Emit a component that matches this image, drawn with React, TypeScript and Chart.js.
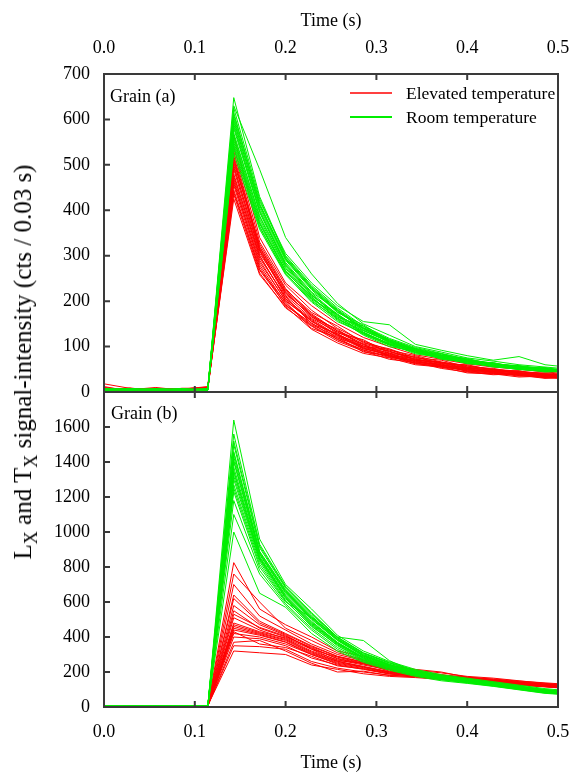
import React, { useEffect, useRef } from "react";
import { Chart, registerables } from "chart.js";

Chart.register(...registerables);

// Time axis (s): one channel every 1/35 s
const TIME = [0, 0.0286, 0.0571, 0.0857, 0.1143, 0.1429, 0.1714, 0.2, 0.2286, 0.2571, 0.2857, 0.3143, 0.3429, 0.3714, 0.4, 0.4286, 0.4571, 0.4857, 0.5143];

const X_TICKS = [0, 0.1, 0.2, 0.3, 0.4, 0.5];
const YA_TICKS = [0, 100, 200, 300, 400, 500, 600, 700];
const YB_TICKS = [0, 200, 400, 600, 800, 1000, 1200, 1400, 1600];

const SERIES_LABELS = ["Elevated temperature", "Room temperature"];
const PANEL_LABELS = ["Grain (a)", "Grain (b)"];
const X_TITLE = "Time (s)";

// Grain (a) – elevated temperature
const grainAElevated = [
  [18, 8, 4, 6, 12, 565, 340, 240, 190, 150, 120, 100, 82, 72, 62, 55, 50, 44, 40],
  [4, 6, 8, 3, 10, 540, 330, 235, 180, 140, 112, 92, 80, 66, 58, 50, 46, 40, 36],
  [10, 4, 6, 5, 8, 520, 320, 225, 175, 145, 108, 95, 75, 70, 55, 52, 42, 38, 34],
  [2, 5, 10, 4, 6, 510, 315, 215, 170, 130, 115, 85, 78, 62, 60, 48, 44, 42, 38],
  [6, 3, 5, 8, 9, 500, 305, 220, 165, 138, 100, 90, 70, 65, 52, 50, 40, 36, 42],
  [8, 7, 3, 2, 7, 490, 300, 205, 160, 125, 105, 80, 74, 58, 55, 45, 47, 33, 30],
  [3, 4, 7, 6, 11, 480, 295, 210, 150, 128, 98, 86, 66, 60, 50, 44, 38, 40, 35],
  [5, 9, 2, 4, 5, 470, 290, 200, 158, 118, 102, 78, 70, 56, 48, 46, 36, 32, 38],
  [12, 2, 4, 7, 8, 465, 280, 195, 148, 122, 95, 82, 64, 62, 45, 40, 42, 34, 30],
  [2, 6, 5, 3, 6, 455, 275, 190, 152, 115, 92, 76, 68, 54, 50, 42, 35, 38, 32],
  [7, 3, 6, 5, 9, 445, 270, 198, 140, 120, 88, 80, 62, 57, 46, 43, 37, 30, 34],
  [4, 5, 3, 8, 7, 435, 262, 185, 145, 112, 90, 72, 65, 52, 44, 38, 40, 31, 29],
  [9, 4, 8, 4, 10, 425, 258, 188, 138, 108, 85, 75, 60, 55, 42, 40, 33, 35, 31],
  [3, 7, 4, 6, 8, 505, 325, 228, 168, 135, 110, 88, 76, 64, 57, 49, 45, 39, 36],
  [6, 4, 5, 3, 9, 530, 318, 222, 172, 134, 106, 90, 72, 66, 54, 47, 43, 37, 33],
  [3, 8, 4, 6, 7, 495, 310, 212, 162, 132, 104, 84, 72, 60, 53, 46, 41, 37, 34],
  [5, 3, 6, 4, 8, 460, 285, 202, 155, 124, 97, 80, 67, 58, 49, 44, 39, 34, 31],
  [7, 5, 3, 5, 6, 440, 268, 192, 146, 116, 93, 78, 63, 56, 47, 41, 38, 33, 30],
  [4, 6, 5, 7, 10, 515, 312, 218, 166, 128, 100, 94, 71, 63, 52, 48, 41, 40, 35],
  [2, 4, 7, 3, 8, 475, 300, 206, 156, 126, 96, 83, 69, 59, 51, 45, 39, 36, 32],
];

// Grain (a) – room temperature
const grainARoom = [
  [6, 5, 4, 6, 5, 648, 430, 300, 235, 185, 145, 118, 98, 85, 72, 62, 58, 52, 48],
  [5, 7, 5, 4, 6, 630, 490, 340, 260, 195, 150, 125, 100, 88, 75, 68, 60, 55, 50],
  [4, 6, 5, 7, 4, 615, 415, 295, 230, 180, 140, 115, 95, 82, 70, 64, 55, 50, 46],
  [7, 5, 6, 5, 6, 600, 405, 290, 225, 175, 148, 112, 92, 80, 74, 60, 57, 48, 52],
  [5, 4, 6, 5, 7, 590, 400, 285, 220, 180, 135, 110, 94, 78, 68, 62, 54, 52, 44],
  [6, 6, 4, 6, 5, 580, 395, 280, 215, 168, 140, 108, 90, 84, 66, 58, 56, 46, 48],
  [4, 5, 7, 4, 6, 570, 385, 275, 212, 172, 132, 105, 96, 76, 70, 60, 52, 54, 45],
  [6, 7, 5, 6, 4, 560, 380, 272, 208, 165, 145, 110, 88, 80, 64, 65, 50, 47, 43],
  [5, 5, 6, 5, 6, 555, 375, 268, 205, 170, 128, 104, 92, 74, 68, 56, 58, 45, 47],
  [7, 4, 5, 6, 5, 545, 370, 265, 210, 160, 135, 112, 86, 78, 62, 60, 53, 50, 42],
  [4, 6, 6, 5, 7, 535, 362, 262, 200, 162, 125, 100, 90, 72, 66, 55, 51, 44, 46],
  [6, 5, 4, 7, 5, 525, 358, 258, 198, 155, 130, 106, 84, 76, 63, 58, 49, 48, 41],
  [5, 6, 5, 4, 6, 610, 420, 305, 240, 190, 155, 148, 105, 92, 80, 70, 78, 60, 54],
  [6, 4, 6, 6, 5, 595, 410, 292, 228, 178, 138, 114, 93, 81, 71, 61, 55, 49, 47],
  [5, 6, 4, 5, 6, 625, 425, 298, 232, 182, 142, 116, 96, 84, 72, 63, 56, 51, 47],
  [6, 5, 6, 4, 5, 585, 398, 282, 218, 170, 136, 110, 92, 79, 69, 60, 55, 50, 45],
  [4, 7, 5, 6, 6, 565, 388, 278, 214, 166, 131, 107, 91, 77, 67, 59, 54, 49, 46],
  [6, 4, 5, 5, 5, 550, 372, 266, 206, 163, 129, 104, 88, 75, 66, 57, 52, 48, 44],
  [5, 5, 7, 6, 4, 540, 365, 260, 203, 158, 127, 103, 87, 74, 64, 56, 50, 46, 43],
  [7, 6, 4, 5, 6, 605, 412, 294, 228, 176, 141, 113, 94, 80, 70, 62, 56, 50, 46],
];

// Grain (b) – elevated temperature
const grainBElevated = [
  [3, 2, 4, 3, 8, 825, 560, 470, 400, 320, 290, 240, 210, 195, 175, 165, 150, 135, 125],
  [2, 4, 3, 5, 6, 760, 600, 450, 380, 310, 270, 235, 215, 200, 170, 160, 148, 138, 128],
  [4, 3, 2, 4, 7, 700, 520, 440, 360, 300, 265, 228, 205, 185, 168, 158, 145, 132, 122],
  [3, 5, 4, 2, 9, 640, 490, 420, 350, 290, 258, 230, 200, 182, 172, 155, 142, 130, 120],
  [2, 3, 5, 3, 6, 580, 470, 410, 330, 285, 250, 220, 198, 180, 165, 152, 140, 128, 118],
  [5, 2, 3, 4, 8, 550, 450, 400, 340, 275, 245, 215, 195, 178, 162, 150, 138, 127, 116],
  [3, 4, 2, 3, 5, 510, 440, 390, 320, 270, 240, 212, 190, 175, 160, 148, 136, 125, 115],
  [2, 3, 4, 5, 7, 480, 430, 395, 330, 265, 250, 205, 188, 172, 158, 146, 135, 124, 113],
  [4, 2, 3, 2, 6, 460, 420, 380, 310, 260, 230, 200, 185, 170, 156, 144, 133, 122, 112],
  [3, 5, 2, 4, 8, 440, 410, 370, 300, 250, 225, 195, 182, 168, 154, 142, 131, 120, 110],
  [2, 3, 5, 3, 5, 420, 400, 360, 300, 245, 220, 192, 180, 165, 152, 140, 130, 119, 108],
  [5, 4, 3, 2, 7, 400, 390, 350, 280, 240, 215, 188, 176, 162, 150, 138, 128, 118, 107],
  [3, 2, 4, 5, 6, 370, 380, 320, 250, 200, 205, 180, 172, 160, 148, 136, 126, 116, 106],
  [2, 4, 3, 3, 8, 320, 310, 300, 240, 215, 190, 175, 168, 158, 146, 135, 125, 115, 104],
  [3, 4, 2, 4, 7, 620, 480, 415, 345, 288, 255, 225, 199, 181, 166, 153, 141, 129, 119],
  [4, 2, 5, 3, 6, 530, 455, 405, 335, 278, 248, 218, 196, 179, 163, 151, 139, 127, 117],
  [2, 5, 3, 4, 8, 470, 425, 385, 315, 262, 232, 202, 186, 171, 157, 145, 134, 123, 112],
  [3, 3, 4, 2, 5, 450, 415, 372, 305, 255, 228, 198, 183, 169, 155, 143, 132, 121, 111],
  [5, 2, 3, 5, 6, 430, 360, 340, 290, 235, 218, 190, 178, 164, 151, 139, 129, 118, 108],
  [2, 4, 4, 3, 7, 350, 345, 330, 260, 222, 200, 182, 174, 161, 149, 137, 127, 117, 105],
];

// Grain (b) – room temperature
const grainBRoom = [
  [3, 4, 3, 5, 4, 1640, 960, 700, 560, 410, 320, 260, 215, 185, 165, 145, 125, 105, 92],
  [4, 3, 5, 3, 4, 1560, 930, 690, 540, 400, 310, 255, 210, 180, 160, 140, 120, 100, 88],
  [3, 5, 4, 4, 5, 1500, 910, 680, 530, 395, 305, 250, 205, 178, 158, 138, 118, 98, 86],
  [5, 3, 4, 3, 4, 1460, 890, 670, 520, 390, 300, 245, 200, 176, 155, 136, 116, 96, 84],
  [4, 4, 3, 5, 5, 1430, 880, 660, 510, 385, 295, 240, 198, 172, 152, 134, 114, 94, 82],
  [3, 4, 5, 4, 4, 1400, 870, 650, 500, 380, 290, 238, 195, 170, 150, 132, 112, 92, 80],
  [4, 3, 4, 5, 5, 1370, 860, 640, 490, 370, 285, 235, 192, 168, 148, 130, 110, 90, 78],
  [5, 4, 3, 4, 4, 1340, 850, 630, 480, 365, 280, 230, 190, 165, 146, 128, 108, 88, 76],
  [3, 5, 4, 3, 5, 1300, 840, 620, 470, 360, 275, 228, 188, 162, 144, 126, 106, 86, 75],
  [4, 3, 5, 4, 4, 1270, 830, 610, 460, 355, 270, 225, 185, 160, 142, 124, 104, 84, 74],
  [5, 4, 3, 5, 5, 1230, 800, 600, 510, 400, 380, 265, 200, 172, 152, 134, 112, 94, 82],
  [3, 4, 4, 4, 4, 1180, 780, 590, 450, 340, 265, 220, 182, 158, 140, 122, 102, 82, 72],
  [4, 5, 3, 3, 5, 1100, 760, 580, 440, 330, 260, 215, 180, 155, 138, 120, 100, 80, 70],
  [3, 3, 4, 5, 4, 1000, 650, 570, 420, 320, 255, 210, 175, 150, 135, 118, 98, 78, 68],
  [4, 3, 4, 4, 5, 1520, 920, 685, 535, 398, 308, 252, 208, 179, 159, 139, 119, 99, 87],
  [3, 4, 5, 3, 4, 1450, 885, 665, 515, 388, 298, 243, 199, 174, 154, 135, 115, 95, 83],
  [5, 3, 3, 4, 5, 1410, 875, 655, 505, 382, 292, 239, 196, 171, 151, 133, 113, 93, 81],
  [4, 5, 4, 5, 4, 1350, 855, 635, 485, 368, 282, 232, 191, 166, 147, 129, 109, 89, 77],
  [3, 4, 3, 4, 5, 1320, 845, 625, 475, 362, 278, 229, 189, 163, 145, 127, 107, 87, 76],
  [4, 3, 5, 3, 4, 1250, 815, 605, 465, 350, 268, 222, 184, 159, 141, 123, 103, 83, 73],
];

const RED = "#ff0000";
const GREEN = "#00ee00";
const FRAME = "#3a3a3a";
const FONT = '"Liberation Serif", "Times New Roman", serif';

const toPoints = (row: number[]) => row.map((v, i) => ({ x: TIME[i], y: v }));

const makeSets = (rows: number[][], color: string, axis: string) =>
  rows.map((r) => ({
    data: toPoints(r),
    borderColor: color,
    backgroundColor: color,
    borderWidth: 1,
    pointRadius: 0,
    tension: 0,
    fill: false,
    xAxisID: "x",
    yAxisID: axis,
  }));

const framePlugin = {
  id: "frame",
  afterDatasetsDraw(chart: any) {
    const { ctx, chartArea: ca, scales } = chart;
    const x = scales.x;
    const ya = scales.ya;
    const yb = scales.yb;
    const sep = ya.bottom;
    const L = 6;
    ctx.save();
    ctx.strokeStyle = FRAME;
    ctx.lineWidth = 2;
    ctx.strokeRect(ca.left, ca.top, ca.right - ca.left, ca.bottom - ca.top);
    ctx.beginPath();
    ctx.moveTo(ca.left, sep);
    ctx.lineTo(ca.right, sep);
    ctx.stroke();
    ctx.beginPath();
    X_TICKS.slice(1, -1).forEach((t) => {
      const px = x.getPixelForValue(t);
      ctx.moveTo(px, ca.top);
      ctx.lineTo(px, ca.top + L);
      ctx.moveTo(px, sep - L);
      ctx.lineTo(px, sep + L);
      ctx.moveTo(px, ca.bottom);
      ctx.lineTo(px, ca.bottom - L);
    });
    YA_TICKS.slice(1, -1).forEach((v) => {
      const py = ya.getPixelForValue(v);
      ctx.moveTo(ca.left, py);
      ctx.lineTo(ca.left + L, py);
    });
    YB_TICKS.slice(1).forEach((v) => {
      const py = yb.getPixelForValue(v);
      ctx.moveTo(ca.left, py);
      ctx.lineTo(ca.left + L, py);
    });
    ctx.stroke();

    // panel labels
    ctx.fillStyle = "#000";
    ctx.font = `18px ${FONT}`;
    ctx.textBaseline = "middle";
    ctx.textAlign = "left";
    ctx.fillText(PANEL_LABELS[0], ca.left + 6, ya.top + 23);
    ctx.fillText(PANEL_LABELS[1], ca.left + 7, yb.top + 22);

    // legend
    const lx0 = ca.left + 246;
    const lx1 = lx0 + 42;
    const rows = [
      { y: ya.top + 19, color: RED, w: 1.5 },
      { y: ya.top + 43, color: GREEN, w: 2 },
    ];
    rows.forEach((r, i) => {
      ctx.strokeStyle = r.color;
      ctx.lineWidth = r.w;
      ctx.beginPath();
      ctx.moveTo(lx0, r.y);
      ctx.lineTo(lx1, r.y);
      ctx.stroke();
      ctx.fillStyle = "#000";
      ctx.font = `17.5px ${FONT}`;
      ctx.fillText(SERIES_LABELS[i], lx1 + 14, r.y + 1);
    });
    ctx.restore();
  },
};

const noSidePadding = (height: number) => (s: any) => {
  s.height = height;
  s.paddingLeft = 0;
  s.paddingRight = 0;
};

export default function App() {
  const ref = useRef<HTMLCanvasElement | null>(null);

  useEffect(() => {
    if (!ref.current) return;
    const tickFont = { family: FONT, size: 18 };
    const xTick = (v: any) => Number(v).toFixed(1);
    const chart = new Chart(ref.current, {
      type: "line",
      data: {
        datasets: [
          ...makeSets(grainARoom, GREEN, "ya"),
          ...makeSets(grainBRoom, GREEN, "yb"),
          ...makeSets(grainAElevated, RED, "ya"),
          ...makeSets(grainBElevated, RED, "yb"),
        ],
      },
      options: {
        responsive: false,
        maintainAspectRatio: false,
        animation: false,
        events: [],
        layout: { padding: { left: 40, right: 18, top: 0, bottom: 0 } },
        plugins: {
          legend: { display: false },
          tooltip: { enabled: false },
        },
        scales: {
          x2: {
            type: "linear",
            position: "top",
            min: 0,
            max: 0.5,
            grid: { display: false, drawTicks: false },
            border: { display: false },
            ticks: { stepSize: 0.1, font: tickFont, color: "#000", padding: 15, callback: xTick, maxRotation: 0, autoSkip: false },
            title: { display: true, text: X_TITLE, font: tickFont, color: "#000", padding: { top: 10, bottom: 0 } },
            afterFit: noSidePadding(74),
          },
          x: {
            type: "linear",
            position: "bottom",
            min: 0,
            max: 0.5,
            grid: { display: false, drawTicks: false },
            border: { display: false },
            ticks: { stepSize: 0.1, font: tickFont, color: "#000", padding: 14, callback: xTick, maxRotation: 0, autoSkip: false },
            title: { display: true, text: X_TITLE, font: tickFont, color: "#000", padding: { top: 0, bottom: 0 } },
            afterFit: noSidePadding(67),
          },
          yb: {
            type: "linear",
            position: "left",
            stack: "panels",
            stackWeight: 315,
            min: 0,
            max: 1800,
            grid: { display: false, drawTicks: false },
            border: { display: false },
            ticks: {
              stepSize: 200,
              autoSkip: false,
              font: tickFont,
              color: "#000",
              padding: 14,
              callback: (v: any) => (YB_TICKS.includes(Number(v)) ? String(v) : ""),
            },
            afterFit: (s: any) => {
              s.width = 64;
            },
          },
          ya: {
            type: "linear",
            position: "left",
            stack: "panels",
            stackWeight: 318,
            min: 0,
            max: 700,
            grid: { display: false, drawTicks: false },
            border: { display: false },
            ticks: {
              stepSize: 100,
              autoSkip: false,
              font: tickFont,
              color: "#000",
              padding: 14,
              callback: (v: any) => (YA_TICKS.includes(Number(v)) ? String(v) : ""),
            },
            afterFit: (s: any) => {
              s.width = 64;
            },
          },
        },
      } as any,
      plugins: [framePlugin],
    });
    return () => chart.destroy();
  }, []);

  return (
    <div style={{ position: "absolute", left: 0, top: 0, width: 576, height: 774, background: "#fff" }}>
      <canvas ref={ref} width={576} height={774} style={{ width: 576, height: 774, display: "block" }} />
      <div
        style={{
          position: "absolute",
          left: 23,
          top: 362,
          transform: "translate(-50%, -50%) rotate(-90deg)",
          whiteSpace: "nowrap",
          fontFamily: FONT,
          fontSize: 25,
          lineHeight: "26px",
          color: "#000",
        }}
      >
        L<sub style={{ fontSize: 18, verticalAlign: "-6px", lineHeight: 0 }}>X</sub> and T
        <sub style={{ fontSize: 18, verticalAlign: "-6px", lineHeight: 0 }}>X</sub> signal-intensity (cts / 0.03 s)
      </div>
    </div>
  );
}
